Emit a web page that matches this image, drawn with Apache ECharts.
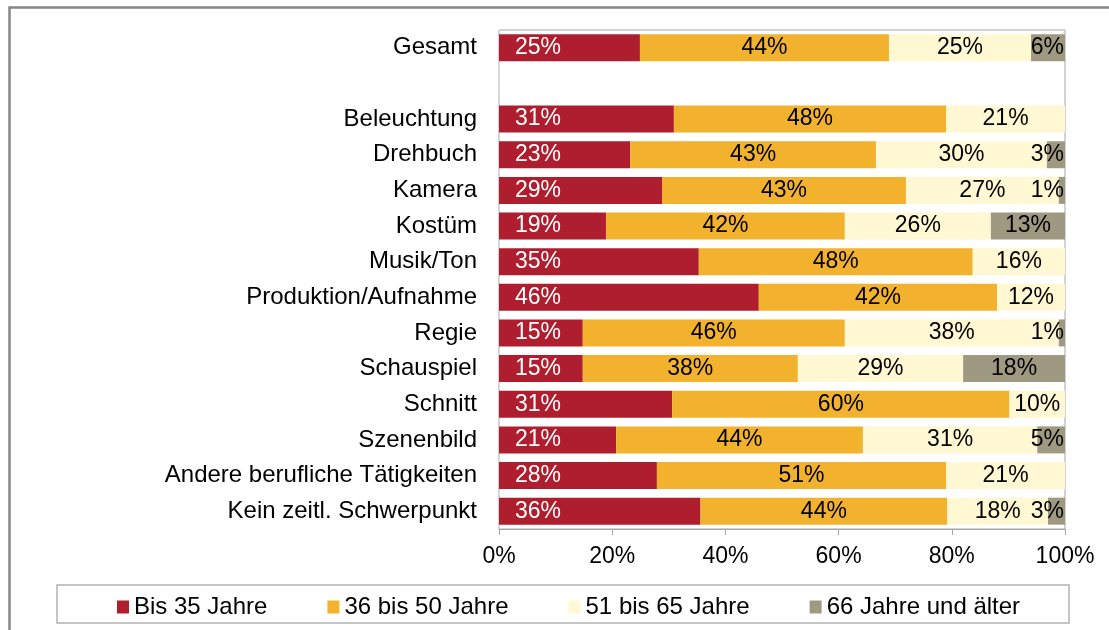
<!DOCTYPE html>
<html>
<head>
<meta charset="utf-8">
<script src="https://cdn.jsdelivr.net/npm/echarts@6/dist/echarts.min.js"></script>
<style>
  html, body { margin: 0; padding: 0; background: #fff; }
  #main { width: 1109px; height: 630px; }
</style>
</head>
<body>
<div id="main"></div>
<script>
// Kategorien (leere Zeile als Abstand nach "Gesamt")
var categories = ['Gesamt', '', 'Beleuchtung', 'Drehbuch', 'Kamera', 'Kostüm', 'Musik/Ton',
  'Produktion/Aufnahme', 'Regie', 'Schauspiel', 'Schnitt', 'Szenenbild',
  'Andere berufliche Tätigkeiten', 'Kein zeitl. Schwerpunkt'];

var seriesNames = ['Bis 35 Jahre', '36 bis 50 Jahre', '51 bis 65 Jahre', '66 Jahre und älter'];

// Anteile in Prozent, je Kategorie
var bis35   = [24.9, null, 30.9, 23.2, 28.8, 18.9, 35.3, 45.9, 14.8, 14.8, 30.6, 20.7, 27.9, 35.6];
var bis50   = [44.0, null, 48.1, 43.4, 43.1, 42.2, 48.4, 42.1, 46.3, 38.0, 59.6, 43.6, 51.1, 43.6];
var bis65   = [25.1, null, 21.0, 30.2, 27.0, 25.8, 16.3, 12.0, 37.8, 29.2,  9.8, 30.8, 21.0, 17.8];
var ab66    = [ 6.0, null,  0,    3.2,  1.1, 13.1,  0,    0,    1.1, 18.0,  0,    4.9,  0,    3.0];

var xTicks = [0, 20, 40, 60, 80, 100];

var colors = ['#af1e2e', '#f2b22e', '#fff8d2', '#9e9980'];
var fontFamily = 'Liberation Sans, Arial, sans-serif';

var chart = echarts.init(document.getElementById('main'));

function pct(p) {
  if (p.value === null || p.value === undefined || p.value === 0) return '';
  return Math.round(p.value) + '%';
}

function makeSeries(name, values, idx) {
  var data = values.map(function (v) {
    if (idx === 3 && v !== null && v > 0 && v < 8) {
      // kleine Segmente: Beschriftung rechtsbündig am Balkenende
      return { value: v, label: { position: 'insideRight', distance: 1 } };
    }
    return v;
  });
  return {
    name: name,
    type: 'bar',
    stack: 'total',
    barWidth: 27,
    data: data,
    itemStyle: { color: colors[idx] },
    label: {
      show: true,
      position: idx === 0 ? 'insideLeft' : 'inside',
      distance: idx === 0 ? 16 : 5,
      formatter: pct,
      color: idx === 0 ? '#ffffff' : '#000000',
      fontSize: 23,
      fontFamily: fontFamily
    }
  };
}

var option = {
  animation: false,
  color: colors,
  graphic: [
    {
      type: 'rect',
      shape: { x: 9.5, y: 7.5, width: 1200, height: 700 },
      style: { fill: 'none', stroke: '#878787', lineWidth: 2.5 },
      silent: true
    },
    {
      type: 'rect',
      shape: { x: 57, y: 585, width: 1012, height: 38 },
      style: { fill: 'none', stroke: '#b3b3b3', lineWidth: 1.5 },
      silent: true
    }
  ],
  legend: {
    data: seriesNames,
    top: 590,
    left: 112,
    padding: 5,
    icon: 'rect',
    itemWidth: 12,
    itemHeight: 13,
    itemGap: 60,
    textStyle: { fontSize: 24, color: '#000', fontFamily: fontFamily }
  },
  grid: {
    left: 499,
    right: 44,
    top: 30,
    bottom: 101,
    show: true,
    borderColor: '#a6a6a6',
    borderWidth: 1
  },
  xAxis: {
    type: 'value',
    min: xTicks[0],
    max: xTicks[xTicks.length - 1],
    interval: xTicks[1] - xTicks[0],
    axisLine: { show: true, lineStyle: { color: '#a6a6a6', width: 1 } },
    axisTick: { show: true, length: 6, lineStyle: { color: '#a6a6a6' } },
    splitLine: { show: false },
    axisLabel: {
      formatter: '{value}%',
      fontSize: 23,
      color: '#000',
      margin: 16,
      fontFamily: fontFamily
    }
  },
  yAxis: {
    type: 'category',
    data: categories,
    inverse: true,
    axisLine: { show: true, lineStyle: { color: '#d9d9d9' } },
    axisTick: { show: false },
    axisLabel: {
      fontSize: 24,
      color: '#000',
      margin: 22,
      fontFamily: fontFamily
    }
  },
  series: [
    makeSeries(seriesNames[0], bis35, 0),
    makeSeries(seriesNames[1], bis50, 1),
    makeSeries(seriesNames[2], bis65, 2),
    makeSeries(seriesNames[3], ab66, 3)
  ]
};

chart.setOption(option);
</script>
</body>
</html>
